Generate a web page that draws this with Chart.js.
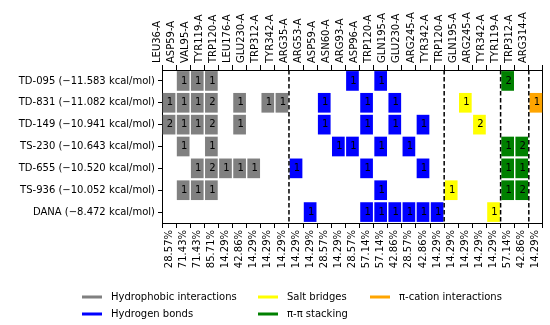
<!DOCTYPE html>
<html>
<head>
<meta charset="utf-8">
<script src="https://cdn.jsdelivr.net/npm/chart.js@4.4.1/dist/chart.umd.min.js"></script>
<style>
  html, body { margin: 0; padding: 0; background: #fff; }
  #wrap { width: 550px; height: 325px; }
</style>
</head>
<body>
<div id="wrap"><canvas id="interaction-chart"></canvas></div>
<script>
// data
var residues = ['LEU36-A', 'ASP59-A', 'VAL95-A', 'TYR119-A', 'TRP120-A', 'LEU176-A', 'GLU230-A', 'TRP312-A', 'TYR342-A',
    'ARG35-A', 'ARG53-A', 'ASP59-A', 'ASN60-A', 'ARG93-A', 'ASP96-A', 'TRP120-A', 'GLN195-A', 'GLU230-A', 'ARG245-A', 'TYR342-A',
    'TRP120-A', 'GLN195-A', 'ARG245-A', 'TYR342-A',
    'TYR119-A', 'TRP312-A',
    'ARG314-A'];
var percents = [28.57, 71.43, 71.43, 85.71, 14.29, 42.86, 14.29, 14.29, 14.29,
    14.29, 14.29, 28.57, 14.29, 28.57, 57.14, 57.14, 42.86, 28.57, 42.86, 14.29,
    14.29, 14.29, 14.29, 14.29,
    57.14, 42.86,
    14.29];
// interaction type of each residue column
var residueGroup = [0, 0, 0, 0, 0, 0, 0, 0, 0,
    1, 1, 1, 1, 1, 1, 1, 1, 1, 1, 1,
    2, 2, 2, 2,
    3, 3,
    4];
var groupNames = ['Hydrophobic interactions', 'Hydrogen bonds', 'Salt bridges', 'π-π stacking', 'π-cation interactions'];
var groupColors = ['#808080', '#0000ff', '#ffff00', '#008000', '#ffa500'];
var compounds = ['TD-095 (−11.583 kcal/mol)', 'TD-831 (−11.082 kcal/mol)', 'TD-149 (−10.941 kcal/mol)',
    'TS-230 (−10.643 kcal/mol)', 'TD-655 (−10.520 kcal/mol)', 'TS-936 (−10.052 kcal/mol)', 'DANA (−8.472 kcal/mol)'];

// number of interactions per residue column (0 = none)
var countsTD095 = [0, 1, 1, 1, 0, 0, 0, 0, 0, 0, 0, 0, 0, 1, 0, 1, 0, 0, 0, 0, 0, 0, 0, 0, 2, 0, 0];
var countsTD831 = [1, 1, 1, 2, 0, 1, 0, 1, 1, 0, 0, 1, 0, 0, 1, 0, 1, 0, 0, 0, 0, 1, 0, 0, 0, 0, 1];
var countsTD149 = [2, 1, 1, 2, 0, 1, 0, 0, 0, 0, 0, 1, 0, 0, 1, 0, 1, 0, 1, 0, 0, 0, 2, 0, 0, 0, 0];
var countsTS230 = [0, 1, 0, 1, 0, 0, 0, 0, 0, 0, 0, 0, 1, 1, 0, 1, 0, 1, 0, 0, 0, 0, 0, 0, 1, 2, 0];
var countsTD655 = [0, 0, 1, 2, 1, 1, 1, 0, 0, 1, 0, 0, 0, 0, 1, 0, 0, 0, 1, 0, 0, 0, 0, 0, 1, 1, 0];
var countsTS936 = [0, 1, 1, 1, 0, 0, 0, 0, 0, 0, 0, 0, 0, 0, 0, 1, 0, 0, 0, 0, 1, 0, 0, 0, 1, 2, 0];
var countsDANA  = [0, 0, 0, 0, 0, 0, 0, 0, 0, 0, 1, 0, 0, 0, 1, 1, 1, 1, 1, 1, 0, 0, 0, 1, 0, 0, 0];

var allCounts = [countsTD095, countsTD831, countsTD149, countsTS230, countsTD655, countsTS936, countsDANA];

var FONT = 'DejaVu Sans';

function BuildDatasets() {
    var sets = [];
    for (var r = 0; r < allCounts.length; r++) {
        var cells = [];
        for (var j = 0; j < allCounts[r].length; j++) {
            cells.push(allCounts[r][j] > 0 ? [r - 0.45, r + 0.45] : null);
        }
        sets.push({
            label: compounds[r],
            data: cells,
            counts: allCounts[r],
            backgroundColor: residueGroup.map(function (g) { return groupColors[g]; }),
            borderWidth: 0,
            barPercentage: 0.9,
            categoryPercentage: 1,
            grouped: false
        });
    }
    return sets;
}

// cell numbers, group separators and legend
var cellTextPlugin = {
    id: 'cellText',
    afterDatasetsDraw: function (chart) {
        var ctx = chart.ctx;
        ctx.save();
        ctx.font = '10px "' + FONT + '"';
        ctx.fillStyle = '#000';
        ctx.textAlign = 'center';
        ctx.textBaseline = 'middle';
        chart.data.datasets.forEach(function (ds, i) {
            var meta = chart.getDatasetMeta(i);
            meta.data.forEach(function (bar, j) {
                if (ds.counts[j] > 0) {
                    ctx.fillText(String(ds.counts[j]), bar.x + 1, (bar.y + bar.base) / 2);
                }
            });
        });
        ctx.restore();
    }
};

var separatorPlugin = {
    id: 'separators',
    afterDatasetsDraw: function (chart) {
        var ctx = chart.ctx;
        var x = chart.scales.x;
        var area = chart.chartArea;
        ctx.save();
        ctx.strokeStyle = '#000';
        ctx.lineWidth = 1.5;
        ctx.setLineDash([4.5, 2.5]);
        for (var j = 1; j < residueGroup.length; j++) {
            if (residueGroup[j] !== residueGroup[j - 1]) {
                var px = (x.getPixelForValue(j - 1) + x.getPixelForValue(j)) / 2;
                ctx.beginPath();
                ctx.moveTo(px, area.top);
                ctx.lineTo(px, area.bottom);
                ctx.stroke();
            }
        }
        ctx.restore();
    }
};

var legendPlugin = {
    id: 'gridLegend',
    afterDraw: function (chart) {
        var ctx = chart.ctx;
        var colX = [82, 258, 370];
        var rowY = [297, 314];
        ctx.save();
        ctx.font = '10px "' + FONT + '"';
        ctx.textBaseline = 'middle';
        ctx.textAlign = 'left';
        for (var k = 0; k < groupNames.length; k++) {
            var cx = colX[Math.floor(k / 2)];
            var cy = rowY[k % 2];
            ctx.fillStyle = groupColors[k];
            ctx.fillRect(cx, cy - 1.5, 20, 3);
            ctx.fillStyle = '#000';
            ctx.fillText(groupNames[k], cx + 29, cy);
        }
        ctx.restore();
    }
};

var ctxEl = document.getElementById('interaction-chart');
var interactionChart = new Chart(ctxEl, {
    type: 'bar',
    data: {
        labels: residues,
        datasets: BuildDatasets()
    },
    options: {
        responsive: true,
        maintainAspectRatio: false,
        animation: false,
        layout: { padding: { left: 0, right: 7, top: 0, bottom: 40 } },
        plugins: {
            legend: { display: false },
            tooltip: { enabled: false }
        },
        scales: {
            x: {
                type: 'category',
                position: 'bottom',
                offset: true,
                grid: { display: true, drawOnChartArea: false, drawTicks: true, tickLength: 5, tickColor: '#000' },
                border: { display: true, color: '#000', width: 1 },
                ticks: {
                    autoSkip: false,
                    minRotation: 90,
                    maxRotation: 90,
                    padding: 2,
                    color: '#000',
                    font: { family: FONT, size: 10 },
                    callback: function (v, i) { return percents[i].toFixed(2) + '%'; }
                },
                afterFit: function (scale) { scale.height = 62; }
            },
            x2: {
                type: 'category',
                position: 'top',
                labels: residues,
                offset: true,
                grid: { display: true, drawOnChartArea: false, drawTicks: true, tickLength: 5, tickColor: '#000' },
                border: { display: true, color: '#000', width: 1 },
                ticks: {
                    autoSkip: false,
                    minRotation: 90,
                    maxRotation: 90,
                    padding: 2,
                    color: '#000',
                    font: { family: FONT, size: 10 }
                },
                afterFit: function (scale) { scale.height = 70; }
            },
            y: {
                type: 'linear',
                min: -0.5,
                max: 6.5,
                reverse: true,
                grid: { display: true, drawOnChartArea: false, drawTicks: true, tickLength: 4, tickColor: '#000' },
                border: { display: true, color: '#000', width: 1 },
                afterBuildTicks: function (scale) {
                    scale.ticks = compounds.map(function (c, i) { return { value: i }; });
                },
                ticks: {
                    autoSkip: false,
                    padding: 3,
                    color: '#000',
                    font: { family: FONT, size: 10 },
                    callback: function (v) { return compounds[v]; }
                },
                afterFit: function (scale) { scale.width = 162; }
            },
            y2: {
                type: 'linear',
                position: 'right',
                min: -0.5,
                max: 6.5,
                grid: { display: false, drawTicks: false },
                border: { display: true, color: '#000', width: 1 },
                ticks: { display: false },
                afterFit: function (scale) { scale.width = 0; }
            }
        }
    },
    plugins: [cellTextPlugin, separatorPlugin, legendPlugin]
});
</script>
</body>
</html>
